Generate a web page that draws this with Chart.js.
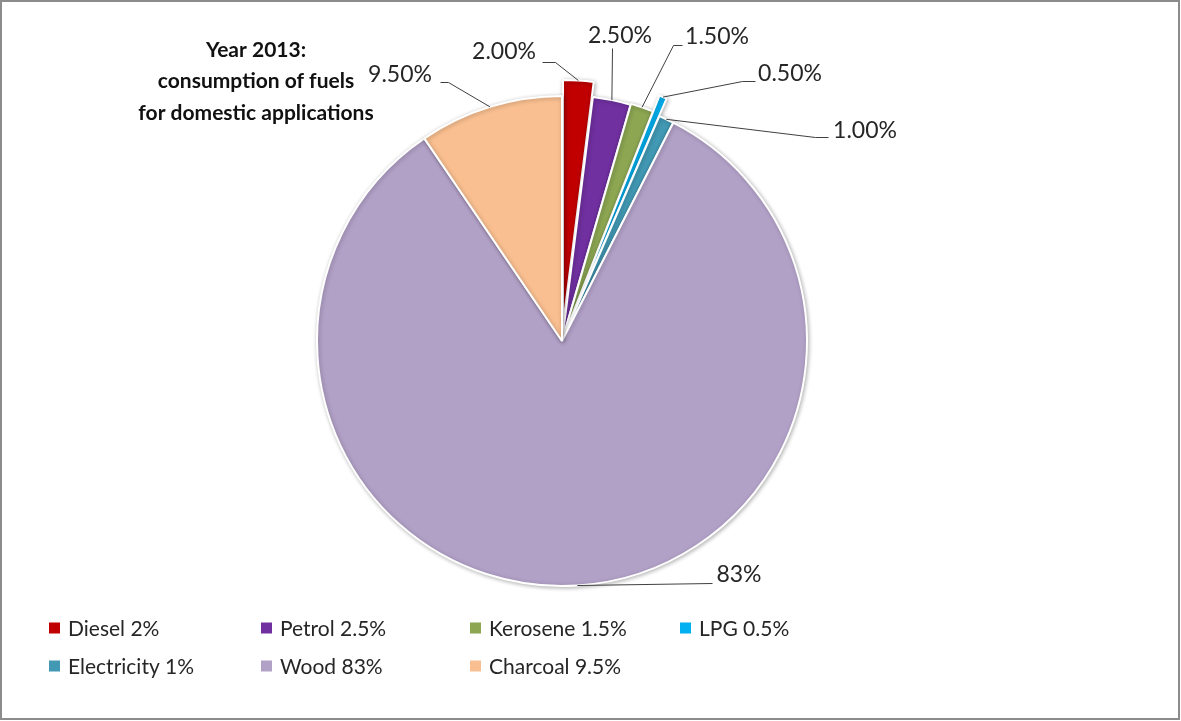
<!DOCTYPE html>
<html>
<head>
<meta charset="utf-8">
<title>Year 2013: consumption of fuels for domestic applications</title>
<script src="https://cdn.jsdelivr.net/npm/chart.js@4.4.1/dist/chart.umd.min.js"></script>
<style>
  html, body { margin: 0; padding: 0; background: #fff; }
  #wrap { position: relative; width: 1181px; height: 721px; }
</style>
</head>
<body>
<div id="wrap"><canvas id="chart"></canvas></div>
<script>
// Fuel shares for domestic use, 2013 (percent)
const categories = ['Diesel', 'Petrol', 'Kerosene', 'LPG', 'Electricity', 'Wood', 'Charcoal'];
const shares = [2, 2.5, 1.5, 0.5, 1, 83, 9.5];
const labelDecimals = [2, 2, 2, 2, 2, 0, 2];
const legendLabels = categories.map((c, i) => c + ' ' + shares[i] + '%');
const titleLines = ['Year 2013:', 'consumption of fuels', 'for domestic applications'];

// Styling
const colors = ['#C00000', '#7030A0', '#8CA652', '#00B0F0', '#4299B4', '#B2A1C7', '#F9BF90'];
// distance (px) each slice is pulled out from the centre
const explode = [16, 1, 2, 19, 0, 0, 0];

// Where each value label sits and how its leader line bends
const labelLayout = [
  { text: [504, 52], path: [[555, 62], [542, 62]] },
  { text: [620, 36], path: [[612, 48]] },
  { text: [717, 37], path: [[673, 45], [682, 45]] },
  { text: [790, 74], path: [[742, 81], [755, 81]] },
  { text: [865, 131], path: [[815, 137], [828, 137]] },
  { text: [739, 575], path: [[712, 583]] },
  { text: [400, 75], path: [[448, 82], [440, 82]] }
];
const legendLayout = { cols: [49, 261, 470, 680], rows: [628, 666], box: 11, gap: 8 };

const FONT = 'Lato, "Open Sans", sans-serif';

const frame = {
  id: 'frame',
  beforeDraw(chart) {
    const ctx = chart.ctx;
    ctx.save();
    ctx.fillStyle = '#fff';
    ctx.fillRect(0, 0, chart.width, chart.height);
    ctx.restore();
  },
  afterDraw(chart) {
    const ctx = chart.ctx;
    ctx.save();
    ctx.strokeStyle = '#8c8c8c';
    ctx.lineWidth = 2;
    ctx.strokeRect(1, 1, chart.width - 3, chart.height - 3);
    ctx.restore();
  }
};

// Pull exploded slices outward as whole wedges
const explodeSlices = {
  id: 'explodeSlices',
  afterDatasetUpdate(chart, args) {
    args.meta.data.forEach((arc, i) => {
      const d = explode[i] || 0;
      if (!d) return;
      const mid = (arc.startAngle + arc.endAngle) / 2;
      arc.x += Math.cos(mid) * d;
      arc.y += Math.sin(mid) * d;
    });
  }
};

const softShadow = {
  id: 'softShadow',
  beforeDatasetsDraw(chart) {
    const ctx = chart.ctx;
    ctx.save();
    ctx.shadowColor = 'rgba(0,0,0,0.28)';
    ctx.shadowBlur = 4;
    ctx.shadowOffsetX = 1;
    ctx.shadowOffsetY = 1;
  },
  afterDatasetsDraw(chart) {
    chart.ctx.restore();
  }
};

const annotations = {
  id: 'annotations',
  afterDatasetsDraw(chart) {
    const ctx = chart.ctx;
    const meta = chart.getDatasetMeta(0);
    ctx.save();
    // value labels with leader lines
    ctx.font = '23px ' + FONT;
    ctx.fillStyle = '#262626';
    ctx.textAlign = 'center';
    ctx.textBaseline = 'middle';
    ctx.strokeStyle = '#404040';
    ctx.lineWidth = 1;
    meta.data.forEach((arc, i) => {
      const mid = (arc.startAngle + arc.endAngle) / 2;
      const ax = arc.x + Math.cos(mid) * arc.outerRadius;
      const ay = arc.y + Math.sin(mid) * arc.outerRadius;
      const lay = labelLayout[i];
      ctx.beginPath();
      ctx.moveTo(ax, ay);
      lay.path.forEach(pt => ctx.lineTo(pt[0] + 0.5, pt[1] + 0.5));
      ctx.stroke();
      const txt = shares[i].toFixed(labelDecimals[i]) + '%';
      ctx.fillText(txt, lay.text[0], lay.text[1]);
    });

    // title
    ctx.font = 'bold 21px ' + FONT;
    ctx.fillStyle = '#111';
    titleLines.forEach((t, k) => ctx.fillText(t, 256, 50 + k * 31.5));

    // legend
    ctx.font = '21px ' + FONT;
    ctx.textAlign = 'left';
    const L = legendLayout;
    legendLabels.forEach((lbl, i) => {
      const c = i % 4, rIdx = Math.floor(i / 4);
      const x = L.cols[c], y = L.rows[rIdx];
      ctx.fillStyle = colors[i];
      ctx.fillRect(x, y - L.box / 2, L.box, L.box);
      ctx.fillStyle = '#262626';
      ctx.fillText(lbl, x + L.box + L.gap, y + 1);
    });
    ctx.restore();
  }
};

new Chart(document.getElementById('chart'), {
  type: 'pie',
  data: {
    labels: categories,
    datasets: [{
      data: shares,
      backgroundColor: colors,
      borderColor: '#ffffff',
      borderWidth: 2
    }]
  },
  options: {
    responsive: true,
    maintainAspectRatio: false,
    animation: false,
    events: [],
    layout: { padding: { left: 316, right: 373, top: 95, bottom: 134 } },
    plugins: {
      legend: { display: false },
      tooltip: { enabled: false },
      title: { display: false }
    }
  },
  plugins: [frame, explodeSlices, softShadow, annotations]
});
</script>
</body>
</html>
